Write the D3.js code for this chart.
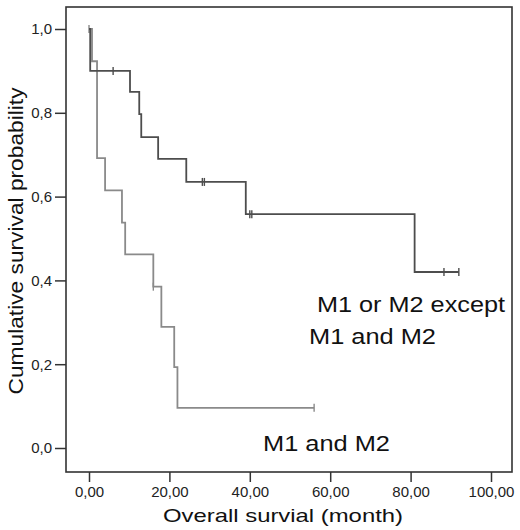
<!DOCTYPE html>
<html>
<head>
<meta charset="utf-8">
<script src="https://cdn.jsdelivr.net/npm/d3@7/dist/d3.min.js"></script>
<style>
  html, body { margin: 0; padding: 0; background: #fff; }
  svg { display: block; }
  text { font-family: "Liberation Sans", Arial, sans-serif; }
</style>
</head>
<body>
<svg id="chart" width="520" height="530"></svg>
<script>
// ---- data ----
// Group "M1 or M2 except M1 and M2"
const upperTimes = [0, 0.3, 10.2, 12.5, 13.0, 17.2, 24.2, 39.0, 81.0];
const upperSurv  = [1.0, 0.90, 0.85, 0.797, 0.742, 0.69, 0.635, 0.558, 0.42];
const upperEnd   = 92;
const upperCensor = [6, 28.2, 28.7, 40.0, 40.5, 88.3, 92];

// Group "M1 and M2"
const lowerTimes = [0, 0.75, 2.0, 4.0, 8.2, 9.0, 16.0, 18.0, 21.2, 22.0];
const lowerSurv  = [1.0, 0.923, 0.692, 0.615, 0.538, 0.462, 0.385, 0.289, 0.193, 0.096];
const lowerEnd   = 56;
const lowerCensor = [0, 16.0, 56];

const xTicks = [0, 20, 40, 60, 80, 100];
const yTicks = [0, 0.2, 0.4, 0.6, 0.8, 1.0];

const labels = {
  yTitle: "Cumulative survival probability",
  xTitle: "Overall survial (month)"
};

// ---- layout ----
const svg = d3.select("#chart");
const frame = { left: 66, top: 7, right: 512, bottom: 472 };

const x = d3.scaleLinear().domain([0, 100]).range([89, 491]);
const y = d3.scaleLinear().domain([0, 1]).range([448, 29]);

const loc = d3.formatLocale({ decimal: ",", thousands: ".", grouping: [3], currency: ["", ""] });
const fy = loc.format(".1f");
const fx = loc.format(".2f");

// frame
svg.append("rect")
  .attr("x", frame.left).attr("y", frame.top)
  .attr("width", frame.right - frame.left)
  .attr("height", frame.bottom - frame.top)
  .attr("fill", "none").attr("stroke", "#333").attr("stroke-width", 1.6);

// y axis
const gy = svg.append("g")
  .attr("transform", `translate(${frame.left},0)`)
  .call(d3.axisLeft(y).tickValues(yTicks).tickFormat(fy).tickSize(11).tickPadding(3));
gy.select(".domain").remove();
gy.selectAll(".tick line").attr("stroke", "#333").attr("stroke-width", 1.5);
gy.selectAll(".tick text").attr("font-size", 15).attr("fill", "#222")
  .style("font-family", "'Liberation Sans', Arial, sans-serif");

// x axis
const gx = svg.append("g")
  .attr("transform", `translate(0,${frame.bottom})`)
  .call(d3.axisBottom(x).tickValues(xTicks).tickFormat(fx).tickSize(10).tickPadding(4));
gx.select(".domain").remove();
gx.selectAll(".tick line").attr("stroke", "#333").attr("stroke-width", 1.5);
gx.selectAll(".tick text").attr("font-size", 15).attr("fill", "#222")
  .style("font-family", "'Liberation Sans', Arial, sans-serif");

// step curves
function stepValue(times, surv, t) {
  let v = surv[0];
  for (let i = 0; i < times.length; i++) if (times[i] <= t) v = surv[i];
  return v;
}
function drawGroup(times, surv, end, censor, color) {
  const pts = times.map((t, i) => [t, surv[i]]);
  pts.push([end, surv[surv.length - 1]]);
  const line = d3.line()
    .x(d => x(d[0])).y(d => y(d[1]))
    .curve(d3.curveStepAfter);
  svg.append("path")
    .datum(pts)
    .attr("d", line)
    .attr("fill", "none")
    .attr("stroke", color)
    .attr("stroke-width", 1.8);
  svg.append("g").selectAll("line")
    .data(censor)
    .join("line")
    .attr("x1", d => x(d)).attr("x2", d => x(d))
    .attr("y1", d => y(stepValue(times, surv, d)) - 4)
    .attr("y2", d => y(stepValue(times, surv, d)) + 4)
    .attr("stroke", color).attr("stroke-width", 1.4);
}
drawGroup(lowerTimes, lowerSurv, lowerEnd, lowerCensor, "#8a8a8a");
drawGroup(upperTimes, upperSurv, upperEnd, upperCensor, "#4d4d4d");

// annotations
const ann = [
  { t: "M1 or M2 except", x: 317, y: 312, w: 188 },
  { t: "M1 and M2", x: 309, y: 344, w: 127 },
  { t: "M1 and M2", x: 263, y: 451, w: 127 }
];
svg.append("g").selectAll("text")
  .data(ann)
  .join("text")
  .attr("x", d => d.x).attr("y", d => d.y)
  .attr("textLength", d => d.w).attr("lengthAdjust", "spacingAndGlyphs")
  .attr("font-size", 22).attr("fill", "#111")
  .text(d => d.t);

// axis titles
svg.append("text")
  .attr("x", 283).attr("y", 522)
  .attr("text-anchor", "middle")
  .attr("textLength", 240).attr("lengthAdjust", "spacingAndGlyphs")
  .attr("font-size", 19).attr("fill", "#111")
  .text(labels.xTitle);

svg.append("text")
  .attr("transform", "translate(23,241) rotate(-90)")
  .attr("text-anchor", "middle")
  .attr("textLength", 307).attr("lengthAdjust", "spacingAndGlyphs")
  .attr("font-size", 20).attr("fill", "#111")
  .text(labels.yTitle);
</script>
</body>
</html>
